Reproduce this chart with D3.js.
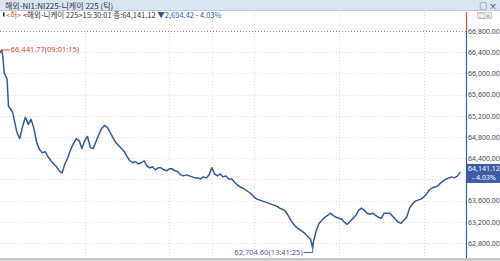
<!DOCTYPE html>
<html>
<head>
<meta charset="utf-8">
<script src="https://cdn.jsdelivr.net/npm/d3@7"></script>
<style>
  body { margin: 0; background: #fff; }
  svg { display: block; font-family: 'Noto Sans CJK KR', 'Noto Sans', sans-serif; }
</style>
</head>
<body>
<div id="chart"></div>
<script>
// tick series, trading session 09:00-11:30 / 12:30-15:30
var times = [
  '09:00', '09:01:15', '09:02', '09:03', '09:04', '09:05', '09:06', '09:07', '09:08', '09:09',
  '09:10', '09:12', '09:14', '09:16', '09:18', '09:20', '09:22', '09:24', '09:26', '09:28',
  '09:30', '09:32', '09:34', '09:36', '09:38', '09:40', '09:42', '09:44', '09:46', '09:48',
  '09:50', '09:52', '09:54', '09:56', '09:58', '10:00', '10:02', '10:04', '10:06', '10:08',
  '10:10', '10:12', '10:14', '10:16', '10:18', '10:20', '10:22', '10:24', '10:26', '10:28',
  '10:30', '10:32', '10:34', '10:36', '10:38', '10:40', '10:42', '10:44', '10:46', '10:48',
  '10:50', '10:52', '10:54', '10:56', '10:58', '11:00', '11:02', '11:04', '11:06', '11:08',
  '11:10', '11:12', '11:14', '11:16', '11:18', '11:20', '11:22', '11:24', '11:26', '11:28',
  '11:30', '12:32', '12:34', '12:36', '12:38', '12:40', '12:42', '12:44', '12:46', '12:48',
  '12:50', '12:52', '12:54', '12:56', '12:58', '13:00', '13:02', '13:04', '13:06', '13:08',
  '13:10', '13:12', '13:14', '13:16', '13:18', '13:20', '13:22', '13:24', '13:26', '13:28',
  '13:30', '13:32', '13:34', '13:36', '13:38', '13:40', '13:41:25', '13:42', '13:44', '13:46',
  '13:48', '13:50', '13:52', '13:54', '13:56', '13:58', '14:00', '14:02', '14:04', '14:06',
  '14:08', '14:10', '14:12', '14:14', '14:16', '14:18', '14:20', '14:22', '14:24', '14:26',
  '14:28', '14:30', '14:32', '14:34', '14:36', '14:38', '14:40', '14:42', '14:44', '14:46',
  '14:48', '14:50', '14:52', '14:54', '14:56', '14:58', '15:00', '15:02', '15:04', '15:06',
  '15:08', '15:10', '15:12', '15:14', '15:16', '15:18', '15:20', '15:22', '15:24', '15:26'
]
var prices = [
  66390, 66441.77, 66314, 66009, 65952, 65895, 65381, 65343, 65305, 65266,
  65133, 64885, 64771, 65000, 65171, 65038, 65133, 64962, 64695, 64562,
  64504, 64524, 64428, 64352, 64295, 64238, 64162, 64123, 64295, 64409,
  64562, 64676, 64771, 64733, 64581, 64733, 64809, 64600, 64581, 64714,
  64847, 64962, 65019, 64981, 64885, 64790, 64695, 64638, 64581, 64524,
  64428, 64352, 64314, 64333, 64295, 64314, 64352, 64257, 64219, 64238,
  64181, 64219, 64219, 64181, 64162, 64200, 64200, 64162, 64143, 64085,
  64066, 64085, 64066, 64047, 64028, 64028, 64009, 64047, 64028, 64085,
  64219, 64104, 64066, 64104, 64047, 64066, 64009, 64009, 63952, 63895,
  63857, 63838, 63800, 63762, 63723, 63666, 63628, 63609, 63590, 63571,
  63552, 63533, 63514, 63495, 63457, 63438, 63400, 63323, 63228, 63152,
  63095, 63057, 63019, 62980, 62923, 62866, 62704.60, 62828, 63038, 63171,
  63228, 63285, 63323, 63362, 63323, 63285, 63266, 63247, 63190, 63152,
  63209, 63266, 63323, 63419, 63457, 63419, 63362, 63343, 63362, 63323,
  63285, 63266, 63362, 63362, 63362, 63305, 63247, 63190, 63171, 63228,
  63285, 63457, 63533, 63590, 63609, 63628, 63666, 63723, 63800, 63838,
  63857, 63876, 63933, 63971, 64009, 64028, 64047, 64028, 64066, 64141.12
]

var priceTicks = [62800, 63200, 63600, 64000, 64400, 64800, 65200, 65600, 66000, 66400, 66800]
var gridTimes = ['10:00', '11:00', '12:30', '13:00', '14:00', '15:00']

var highPoint = { time: '09:01:15', price: 66441.77 }
var lowPoint = { time: '13:41:25', price: 62704.6 }
var lastPrice = 64141.12
var lastTime = '15:30:01'
var change = 2694.42
var changePct = -4.03
var titleText = '해외-NI1:NI225-니케이 225 (틱)'
var seriesName = '<해외-니케이 225>'

var width = 500
var height = 261
var plotRight = 466
var plotTop = 12
var plotBottom = 258

var fmt = d3.format(',.2f')

// minutes of trading since the open, lunch break removed
function sessionMinute(t) {
  var p = t.split(':').map(Number)
  var m = p[0] * 60 + p[1] + (p[2] || 0) / 60 - 540
  if (m > 150) m = m - 60
  return m
}

var xPositionScale = d3.scaleLinear().domain([0, 330]).range([0, plotRight])
var yPositionScale = d3.scaleLinear().domain([62800, 66800]).range([243, 31])

var points = times.map(function(t, i) {
  return { time: t, price: prices[i] }
})

var svg = d3
  .select('#chart')
  .append('svg')
  .attr('width', width)
  .attr('height', height)

// title bar
svg
  .append('rect')
  .attr('x', 0)
  .attr('y', 0)
  .attr('width', width)
  .attr('height', 10.5)
  .attr('fill', '#d9e6f2')
svg
  .append('line')
  .attr('x1', 0)
  .attr('x2', width)
  .attr('y1', 10.5)
  .attr('y2', 10.5)
  .attr('stroke', '#b9cbe0')
svg
  .append('text')
  .text(titleText)
  .attr('x', 5)
  .attr('y', 8.5)
  .attr('font-size', '8px')
  .attr('fill', '#333')
svg
  .append('text')
  .text('□ ×')
  .attr('x', 497)
  .attr('y', 8.5)
  .attr('text-anchor', 'end')
  .attr('font-size', '8px')
  .attr('fill', '#222')

// small window buttons inside the chart
svg
  .append('rect')
  .attr('x', 477.5)
  .attr('y', 12.5)
  .attr('width', 14)
  .attr('height', 6)
  .attr('fill', '#f2f2f2')
  .attr('stroke', '#ccc')
svg
  .append('text')
  .text('□×')
  .attr('x', 479)
  .attr('y', 18)
  .attr('font-size', '6px')
  .attr('fill', '#666')

// horizontal grid
svg
  .append('g')
  .selectAll('line')
  .data(priceTicks.slice(0, -1))
  .enter()
  .append('line')
  .attr('x1', 0)
  .attr('x2', plotRight)
  .attr('y1', d => Math.round(yPositionScale(d)) + 0.5)
  .attr('y2', d => Math.round(yPositionScale(d)) + 0.5)
  .attr('stroke', '#dcdcdc')
  .attr('stroke-dasharray', '1,2')

// vertical grid
svg
  .append('g')
  .selectAll('line')
  .data(gridTimes)
  .enter()
  .append('line')
  .attr('x1', d => Math.round(xPositionScale(sessionMinute(d))) + 0.5)
  .attr('x2', d => Math.round(xPositionScale(sessionMinute(d))) + 0.5)
  .attr('y1', plotTop)
  .attr('y2', plotBottom)
  .attr('stroke', '#dcdcdc')
  .attr('stroke-dasharray', '1,2')

// top reference line
svg
  .append('line')
  .attr('x1', 0)
  .attr('x2', plotRight)
  .attr('y1', Math.round(yPositionScale(66800)) + 0.5)
  .attr('y2', Math.round(yPositionScale(66800)) + 0.5)
  .attr('stroke', '#8a8a8a')
  .attr('stroke-dasharray', '1,2')

// price line
var line = d3
  .line()
  .x(d => xPositionScale(sessionMinute(d.time)))
  .y(d => yPositionScale(d.price))

svg
  .append('path')
  .datum(points)
  .attr('d', line)
  .attr('fill', 'none')
  .attr('stroke', '#34589c')
  .attr('stroke-width', 1.5)
  .attr('stroke-linejoin', 'round')

// right price axis (the label hidden under the last-price box is left out)
var lastY = yPositionScale(lastPrice)
var yAxis = d3
  .axisRight(yPositionScale)
  .tickValues(priceTicks.filter(d => Math.abs(yPositionScale(d) - lastY) > 11))
  .tickSize(0)
  .tickPadding(2)
  .tickFormat(fmt)

var axisG = svg
  .append('g')
  .attr('class', 'axis y-axis')
  .attr('transform', 'translate(' + plotRight + ',0)')
  .call(yAxis)
axisG.select('.domain').remove()
axisG
  .selectAll('text')
  .attr('font-size', '7px')
  .attr('font-family', "'Noto Sans', sans-serif")
  .attr('fill', '#444')

svg
  .append('line')
  .attr('x1', plotRight + 0.5)
  .attr('x2', plotRight + 0.5)
  .attr('y1', yPositionScale(66800))
  .attr('y2', plotBottom)
  .attr('stroke', '#3b5ea8')
  .attr('stroke-width', 1.2)
svg
  .append('line')
  .attr('x1', plotRight + 0.5)
  .attr('x2', plotRight + 0.5)
  .attr('y1', plotTop)
  .attr('y2', yPositionScale(66800))
  .attr('stroke', '#e0463c')
  .attr('stroke-width', 1.2)

// last price box
svg
  .append('rect')
  .attr('x', plotRight + 1)
  .attr('y', lastY - 8)
  .attr('width', width - plotRight - 1)
  .attr('height', 19)
  .attr('fill', '#3a5ca6')
svg
  .append('text')
  .text(fmt(lastPrice))
  .attr('x', plotRight + 2)
  .attr('y', lastY - 0.5)
  .attr('font-size', '7px')
  .attr('font-family', "'Noto Sans', sans-serif")
  .attr('fill', '#fff')
svg
  .append('text')
  .text('- ' + Math.abs(changePct).toFixed(2) + '%')
  .attr('x', plotRight + 6)
  .attr('y', lastY + 8)
  .attr('font-size', '7px')
  .attr('font-family', "'Noto Sans', sans-serif")
  .attr('fill', '#fff')

// high annotation
var hx = xPositionScale(sessionMinute(highPoint.time))
var hy = yPositionScale(highPoint.price)
svg
  .append('line')
  .attr('x1', hx)
  .attr('x2', hx + 8)
  .attr('y1', hy)
  .attr('y2', hy)
  .attr('stroke', '#e0463c')
svg
  .append('text')
  .text(fmt(highPoint.price) + '(' + highPoint.time + ')')
  .attr('x', hx + 9)
  .attr('y', hy + 2.5)
  .attr('font-size', '7.5px')
  .attr('font-family', "'Noto Sans', sans-serif")
  .attr('fill', '#e0463c')

// low annotation
var lx = xPositionScale(sessionMinute(lowPoint.time))
var ly = yPositionScale(lowPoint.price)
svg
  .append('path')
  .attr('d', 'M' + lx + ',' + ly + 'V' + (ly + 4.5) + 'H' + (lx - 9))
  .attr('fill', 'none')
  .attr('stroke', '#50648a')
svg
  .append('text')
  .text(fmt(lowPoint.price) + '(' + lowPoint.time + ')')
  .attr('x', lx - 10)
  .attr('y', ly + 7)
  .attr('text-anchor', 'end')
  .attr('font-size', '7.5px')
  .attr('font-family', "'Noto Sans', sans-serif")
  .attr('fill', '#50648a')

// info line
svg
  .append('rect')
  .attr('x', 3)
  .attr('y', 12.5)
  .attr('width', 1.5)
  .attr('height', 4)
  .attr('fill', '#222')
var info = svg
  .append('text')
  .attr('x', 6)
  .attr('y', 18)
  .attr('font-size', '7.5px')
info.append('tspan').text('<허>').attr('fill', '#e0463c')
info
  .append('tspan')
  .text(' ' + seriesName + lastTime + ' 종:' + fmt(lastPrice) + ' ')
  .attr('fill', '#333')
info
  .append('tspan')
  .text('▼' + fmt(change) + '  - ' + Math.abs(changePct).toFixed(2) + '%')
  .attr('fill', '#3552a0')

// bottom frame
svg
  .append('rect')
  .attr('x', 0)
  .attr('y', plotBottom)
  .attr('width', width)
  .attr('height', height - plotBottom)
  .attr('fill', '#c9c9c9')
</script>
</body>
</html>
